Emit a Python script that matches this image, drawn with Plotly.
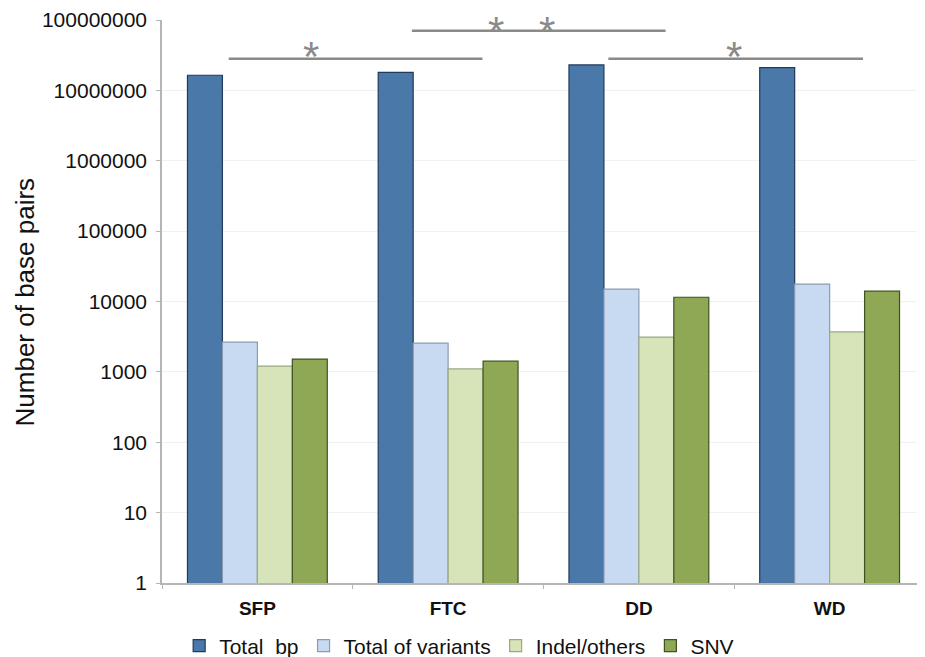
import plotly.graph_objects as go

categories = ["SFP", "FTC", "DD", "WD"]
series_names = ["Total  bp", "Total of variants", "Indel/others", "SNV"]
total_bp = [16400000, 18000000, 23000000, 21000000]
total_variants = [2650, 2560, 15000, 17700]
indel_others = [1210, 1100, 3120, 3700]
snv = [1520, 1420, 11500, 14000]
tick_vals = [1, 10, 100, 1000, 10000, 100000, 1000000, 10000000, 100000000]
tick_text = ["1", "10", "100", "1000", "10000", "100000", "1000000", "10000000", "100000000"]
y_title = "Number of base pairs"

colors = ["#4a79a9", "#c7daf1", "#d7e4b9", "#8fa856"]
edge_colors = ["#1f3a5c", "#8c9bb0", "#9aa882", "#3f5220"]
values = [total_bp, total_variants, indel_others, snv]

fig = go.Figure()
for name, vals, c, ec in zip(series_names, values, colors, edge_colors):
    fig.add_trace(go.Bar(
        x=categories, y=vals, name=name,
        marker=dict(color=c, line=dict(color=ec, width=1.2)),
    ))

FONT = "Liberation Sans, Arial, sans-serif"

# significance brackets (position in category index units / paper y)
brackets = [(-0.15, 1.18, 0.931), (0.81, 2.14, 0.981), (1.84, 3.175, 0.931)]
for x0, x1, yy in brackets:
    fig.add_shape(type="line", xref="x", yref="paper", x0=x0, x1=x1, y0=yy, y1=yy,
                  line=dict(color="#8a8a8a", width=2.5))

stars = [(0.28, 0.931, -23), (1.25, 0.981, -26), (1.52, 0.981, -26), (2.5, 0.931, -23)]
for sx, sy, shift in stars:
    fig.add_annotation(x=sx, y=sy, xref="x", yref="paper", text="*", showarrow=False,
                       yanchor="bottom", yshift=shift,
                       font=dict(family=FONT, size=42, color="#8a8a8a"))

# y-axis title
fig.add_annotation(x=-0.1796, y=0.5, xref="paper", yref="paper", xanchor="center", yanchor="middle",
                   text=y_title, textangle=-90, showarrow=False,
                   font=dict(family=FONT, size=26, color="#111111"))

fig.update_layout(
    width=917, height=649,
    margin=dict(l=154, r=0, t=12, b=74, autoexpand=False),
    paper_bgcolor="white", plot_bgcolor="white",
    barmode="group", bargap=0.267, bargroupgap=0,
    font=dict(family=FONT, color="#111111"),
    showlegend=True,
    legend=dict(orientation="h", x=0.492, xanchor="center", xref="container",
                y=-0.112, yanchor="middle",
                font=dict(family=FONT, size=21, color="#111111"),
                itemwidth=30, tracegroupgap=0),
)
fig.update_yaxes(
    type="log", range=[0, 8], tickvals=tick_vals, ticktext=tick_text,
    showgrid=True, gridcolor="#f1f1f1", gridwidth=1,
    showline=True, linecolor="#b5b5b5", linewidth=1.5,
    ticks="outside", ticklen=4, tickcolor="#b5b5b5",
    tickfont=dict(family=FONT, size=21, color="#111111"),
    ticklabelstandoff=5,
    zeroline=False,
)
fig.update_xaxes(
    showline=True, linecolor="#b5b5b5", linewidth=1.5,
    ticks="outside", tickson="boundaries", ticklen=4, tickcolor="#b5b5b5",
    tickfont=dict(family=FONT, size=19, color="#111111", weight="bold"),
    ticklabelstandoff=7,
    showgrid=False,
)

fig.write_html("out.html")
